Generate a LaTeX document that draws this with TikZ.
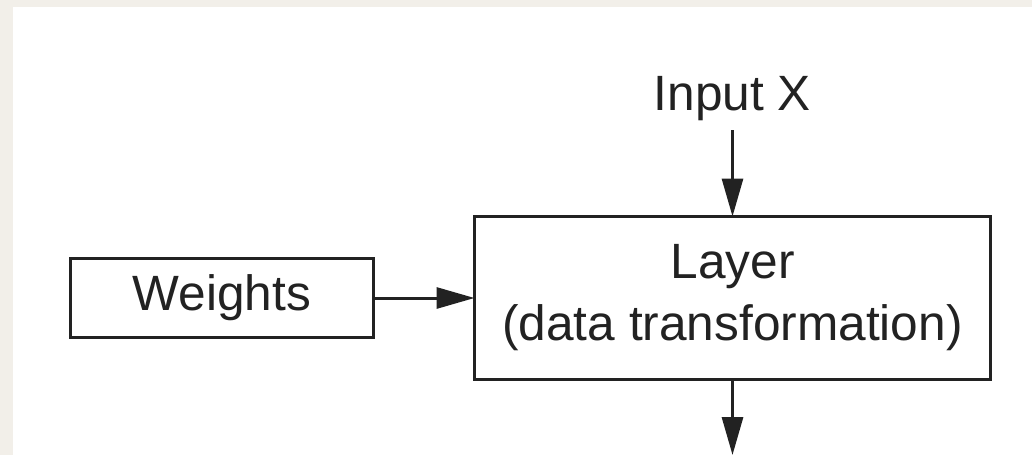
\documentclass[tikz,border=0pt]{standalone}
\usepackage{fontspec}
\setmainfont{Liberation Sans}
\usetikzlibrary{arrows.meta}
\definecolor{paper}{HTML}{F2EFE9}
\definecolor{ink}{HTML}{222222}
\begin{document}
\begin{tikzpicture}[x=1pt, y=-1pt,
  txt/.style={font=\fontsize{49.6}{62}\selectfont, text=ink},
  box/.style={txt, draw=ink, line width=3.5pt, fill=white,
    inner sep=0pt, outer sep=0pt, align=center},
  arr/.style={draw=ink, line width=3pt,
    -{Triangle[length=38pt, width=21pt]}}]
  % page with a paper-coloured margin strip on the left and top
  \useasboundingbox (0,0) rectangle (1032,455);
  \fill[paper] (0,0) rectangle (1032,455);
  \fill[white] (13,7) rectangle (1032,455);

  % blocks
  \node[box, minimum width=303pt, minimum height=79pt] (w) at (222,298) {Weights};
  \node[box, minimum width=516pt, minimum height=163pt] (l) at (732.5,298)
    {Layer\\(data transformation)};
  \node[txt, anchor=base, inner xsep=0pt, inner ysep=10pt, outer sep=0pt] (in) at (732.5,110) {Input X};
  \coordinate (out) at (732.5,455);

  % connectors
  \draw[arr] (w.east) -- (l.west);
  \draw[arr] (in.south) -- (in.south |- l.north);
  \draw[arr] (l.south) -- (out);
\end{tikzpicture}
\end{document}
